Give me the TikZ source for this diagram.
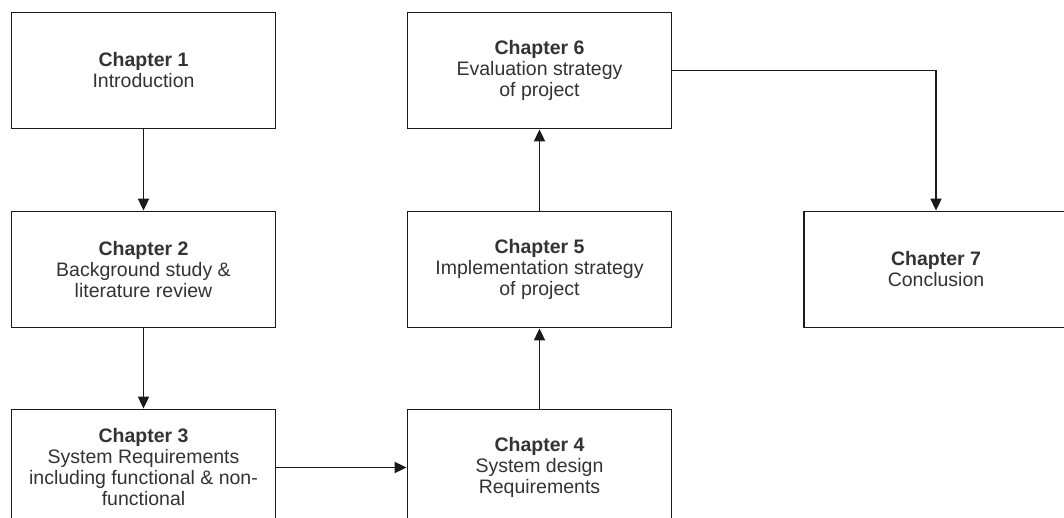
\documentclass[tikz,border=0pt]{standalone}
\usepackage{fontspec}
\setmainfont{Liberation Sans}
\usetikzlibrary{arrows.meta}
\definecolor{inkline}{HTML}{1A1A1A}
\definecolor{inktext}{HTML}{333333}
\begin{document}
\begin{tikzpicture}[x=1pt,y=-1pt,
  chapbox/.style={draw=inkline,line width=1.8pt,fill=white,minimum width=264pt,minimum height=116pt,
    inner sep=0pt,align=center,text=inktext,font=\fontsize{19.5}{21}\selectfont},
  flow/.style={draw=inkline,line width=1.8pt,-{Triangle[length=12pt,width=11pt]}}]
  \useasboundingbox (0,0) rectangle (1064,518);
  \fill[white] (0,0) rectangle (1064,518);
  \clip (0,0) rectangle (1064,518);

  % chapter boxes
  \node[chapbox] (c1) at (143.5,70.5) {\textbf{Chapter 1}\\Introduction};
  \node[chapbox] (c2) at (143.5,269.5) {\textbf{Chapter 2}\\Background study \&\\literature review};
  \node[chapbox] (c3) at (143.5,467.5) {\textbf{Chapter 3}\\System Requirements\\including functional \& non-\\functional};
  \node[chapbox] (c4) at (539.5,467.5) {\textbf{Chapter 4}\\System design\\Requirements};
  \node[chapbox] (c5) at (539.5,269.5) {\textbf{Chapter 5}\\Implementation strategy\\of project};
  \node[chapbox] (c6) at (539.5,70.5) {\textbf{Chapter 6}\\Evaluation strategy\\of project};
  \node[chapbox] (c7) at (936,269.5) {\textbf{Chapter 7}\\Conclusion};

  % reading order
  \draw[flow] (c1.south) -- (c2.north);
  \draw[flow] (c2.south) -- (c3.north);
  \draw[flow] (c3.east) -- (c4.west);
  \draw[flow] (c4.north) -- (c5.south);
  \draw[flow] (c5.north) -- (c6.south);
  \draw[flow] (c6.east) -| (c7.north);
\end{tikzpicture}
\end{document}
